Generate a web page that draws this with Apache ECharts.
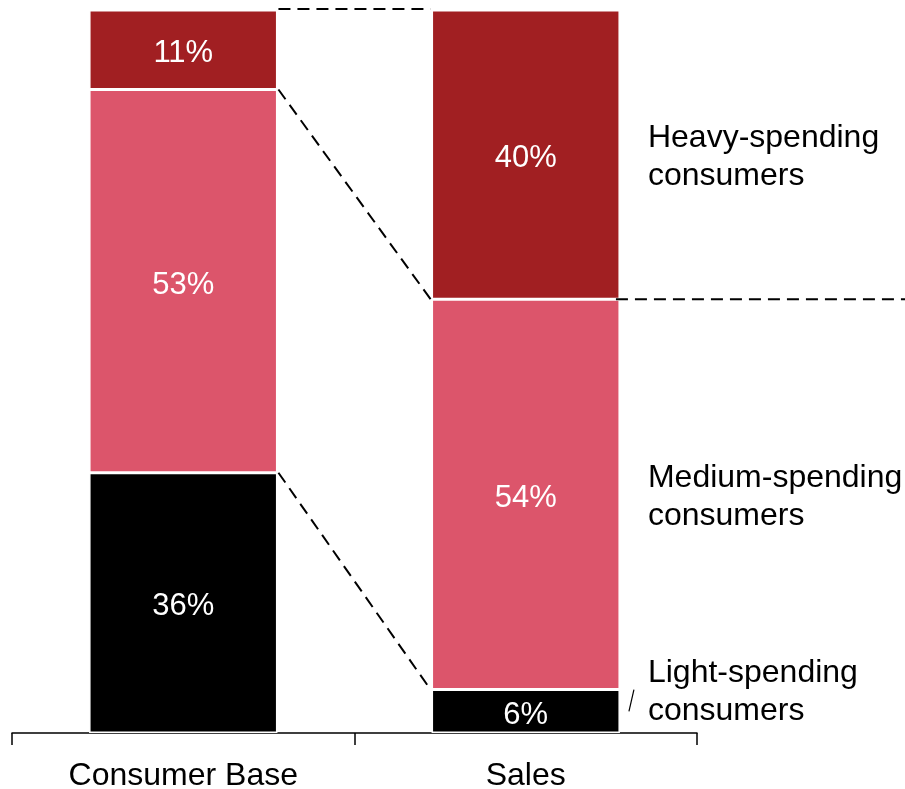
<!DOCTYPE html>
<html>
<head>
<meta charset="utf-8">
<script src="https://cdn.jsdelivr.net/npm/echarts@6/dist/echarts.min.js"></script>
<style>
html,body{margin:0;padding:0;background:#fff;}
#chart{width:905px;height:789px;}
</style>
</head>
<body>
<div id="chart"></div>
<script>
const categories = ['Consumer Base', 'Sales'];
const lightValues = [36, 6];
const mediumValues = [53, 54];
const heavyValues = [11, 40];
const segmentNames = ['Light-spending\nconsumers', 'Medium-spending\nconsumers', 'Heavy-spending\nconsumers'];

const FONT = 'Arial, "Liberation Sans", sans-serif';
const BAR_RATIO = 0.55;
const colors = { light: '#000000', medium: '#DC556B', heavy: '#A11F22' };

function barSeries(name, data, color) {
  return {
    name: name,
    type: 'bar',
    stack: 'total',
    barWidth: (BAR_RATIO * 100) + '%',
    data: data,
    itemStyle: { color: color, borderColor: '#ffffff', borderWidth: 1.5 },
    label: {
      show: true,
      position: 'inside',
      color: '#ffffff',
      fontFamily: FONT,
      fontSize: 31,
      offset: [0, 4],
      formatter: '{c}%'
    },
    emphasis: { disabled: true },
    silent: true
  };
}

const chart = echarts.init(document.getElementById('chart'), null, { renderer: 'canvas' });

const option = {
  animation: false,
  backgroundColor: '#ffffff',
  grid: { left: 12, right: 208, top: 10, bottom: 56, containLabel: false, outerBoundsMode: 'none' },
  xAxis: {
    type: 'category',
    data: categories,
    axisLine: { lineStyle: { color: '#000', width: 1.5 } },
    axisTick: { show: true, length: 12, lineStyle: { color: '#000', width: 1.5 } },
    axisLabel: { color: '#000', fontFamily: FONT, fontSize: 32, margin: 27 }
  },
  yAxis: {
    type: 'value',
    min: 0,
    max: 100,
    show: false,
    splitLine: { show: false }
  },
  series: [
    barSeries('Light', lightValues, colors.light),
    barSeries('Medium', mediumValues, colors.medium),
    barSeries('Heavy', heavyValues, colors.heavy),
    {
      type: 'custom',
      silent: true,
      clip: false,
      z: 10,
      data: [[0, 0]],
      renderItem: function (params, api) {
        const c0 = api.coord([0, 0]);
        const c1 = api.coord([1, 0]);
        const band = c1[0] - c0[0];
        const half = band * BAR_RATIO / 2;
        const x0r = c0[0] + half;
        const x1l = c1[0] - half;
        const x1r = c1[0] + half;
        const y = v => api.coord([0, v])[1];
        const b0 = [lightValues[0], lightValues[0] + mediumValues[0], lightValues[0] + mediumValues[0] + heavyValues[0]];
        const b1 = [lightValues[1], lightValues[1] + mediumValues[1], lightValues[1] + mediumValues[1] + heavyValues[1]];
        const dash = { stroke: '#000', lineWidth: 2, lineDash: [12, 7], fill: null };
        const children = [];
        for (let i = 0; i < 3; i++) {
          children.push({
            type: 'line',
            shape: { x1: x0r + 1, y1: y(b0[i]) - (i === 2 ? 1 : 0), x2: x1l - 1, y2: y(b1[i]) - (i === 2 ? 1 : 0) },
            style: dash
          });
        }
        // horizontal dashed line from Sales bar (top of medium segment) to the right edge
        children.push({
          type: 'line',
          shape: { x1: x1r - 4, y1: y(b1[1]), x2: api.getWidth(), y2: y(b1[1]) },
          style: dash
        });
        // small leader line for light-spending label
        children.push({
          type: 'line',
          shape: { x1: x1r + 9, y1: y(lightValues[1] / 2), x2: x1r + 14, y2: y(lightValues[1]) },
          style: { stroke: '#000', lineWidth: 1.2 }
        });
        // segment labels to the right of Sales bar
        const labelY = [y(lightValues[1]), y(b1[0] + mediumValues[1] / 2), y(b1[1] + heavyValues[1] / 2)];
        for (let i = 0; i < 3; i++) {
          children.push({
            type: 'text',
            x: x1r + 28,
            y: labelY[i] + 3,
            style: {
              text: segmentNames[i],
              fill: '#000',
              font: '32px ' + FONT,
              lineHeight: 38,
              textAlign: 'left',
              textVerticalAlign: 'middle'
            }
          });
        }
        return { type: 'group', children: children };
      }
    }
  ]
};

chart.setOption(option);
</script>
</body>
</html>
